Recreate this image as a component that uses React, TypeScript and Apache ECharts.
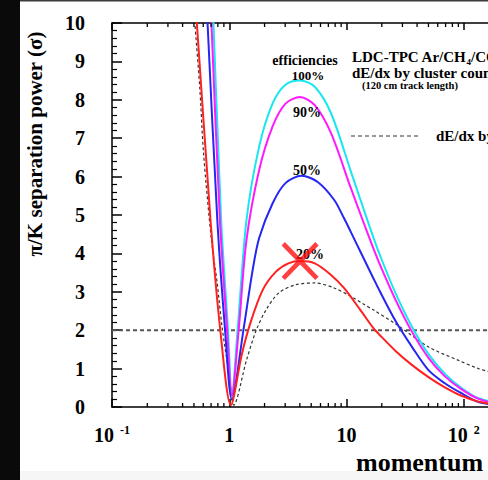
import React, { useEffect, useRef } from "react";
import * as echarts from "echarts";

// momentum (GeV/c), separation power (sigma)
const eff100: number[][] = [
  [0.70, 11.2], [0.733, 10], [0.853, 4.87], [0.975, 2.03], [1.053, 0.3], [1.18, 2.03],
  [1.403, 4.87], [1.799, 6.78], [2.339, 7.9], [3.017, 8.39], [4.02, 8.5], [5.36, 8.34],
  [7.38, 7.65], [10.8, 6.17], [15.9, 4.66], [19.7, 3.88], [27.3, 2.84], [37.5, 2.0],
  [51.3, 1.33], [71.0, 0.83], [98.3, 0.47], [133.6, 0.23], [200, 0.1],
];
const eff90: number[][] = [
  [0.68, 11.2], [0.705, 10], [0.832, 4.87], [0.957, 2.03], [1.053, 0.3], [1.205, 2.03],
  [1.403, 4.35], [1.799, 6.17], [2.339, 7.3], [3.017, 7.9], [4.02, 8.07], [5.36, 7.86],
  [7.38, 7.13], [10.8, 5.73], [15.9, 4.35], [19.2, 3.72], [26.2, 2.79], [36.3, 1.95],
  [50.0, 1.28], [68.4, 0.81], [94.6, 0.47], [133.6, 0.21], [200, 0.08],
];
const eff50: number[][] = [
  [0.62, 11.3], [0.653, 10], [0.791, 4.87], [0.92, 2.03], [1.053, 0.2], [1.325, 2.03],
  [1.574, 3.52], [1.799, 4.4], [2.339, 5.3], [3.017, 5.83], [4.15, 6.02], [5.68, 5.86],
  [7.86, 5.39], [9.51, 4.92], [10.8, 4.58], [13.96, 3.88], [16.9, 3.36], [19.2, 3.02],
  [26.2, 2.24], [36.3, 1.56], [50.0, 0.96], [68.4, 0.625], [94.6, 0.365], [133.6, 0.13],
  [200, 0.05],
];
const eff20: number[][] = [
  [0.48, 11.6], [0.529, 10], [0.692, 4.87], [0.837, 2.03], [1.033, 0.05], [1.275, 1.35],
  [1.515, 2.19], [1.931, 3.05], [2.493, 3.52], [3.197, 3.74], [4.02, 3.8], [5.36, 3.74],
  [7.38, 3.44], [9.51, 3.1], [13.1, 2.53], [16.9, 2.06], [19.2, 1.875], [26.2, 1.46],
  [36.3, 1.09], [50.0, 0.78], [68.4, 0.52], [94.6, 0.3], [133.6, 0.14], [200, 0.05],
];
const truncMean: number[][] = [
  [0.48, 11.2], [0.509, 10], [0.56, 8.33], [0.604, 6.6], [0.705, 4.35], [0.791, 3.2],
  [0.869, 2.08], [1.013, 0.7], [1.094, 0.05], [1.403, 1.22], [1.699, 2.0], [2.06, 2.53],
  [2.64, 2.97], [3.65, 3.18], [5.36, 3.23], [7.86, 3.1], [11.5, 2.84], [13.96, 2.68],
  [16.9, 2.53], [26.3, 2.16], [50.3, 1.56], [89.3, 1.22], [133.7, 1.0], [200, 0.85],
];
const threshold: number[][] = [[0.1, 2], [1000, 2]];
const marker: number[][] = [[4.02, 3.8]];
const minorXTicks: number[] = [
  0.2, 0.3, 0.4, 0.5, 0.6, 0.7, 0.8, 0.9,
  2, 3, 4, 5, 6, 7, 8, 9,
  20, 30, 40, 50, 60, 70, 80, 90,
  200, 300, 400, 500, 600, 700, 800, 900,
];
const yTicks = { min: 0, max: 10, interval: 1 };
const xRange = { min: 0.1, max: 1000 };

const SERIF = "'Liberation Serif', 'Times New Roman', 'DejaVu Serif', serif";
const CHART_W = 600;

export default function App() {
  const ref = useRef<HTMLDivElement>(null);
  useEffect(() => {
    if (!ref.current) return;
    const chart = echarts.init(ref.current, null, { renderer: "svg" });
    const lineBase = (name: string, data: number[][], color: string, z: number) => ({
      name,
      type: "line",
      data,
      showSymbol: false,
      symbol: "none",
      smooth: 0.3,
      z,
      lineStyle: { color, width: 2 },
    });
    const xLabel = (v: number) => {
      if (Math.abs(v - 0.1) < 1e-9) return "{b|10}{s|-1}";
      if (Math.abs(v - 1) < 1e-9) return "{b|1}";
      if (Math.abs(v - 10) < 1e-9) return "{b|10}";
      if (Math.abs(v - 100) < 1e-9) return "{b|10}{s|2}";
      if (Math.abs(v - 1000) < 1e-9) return "{b|10}{s|3}";
      return "";
    };
    const axisCommon = {
      type: "log",
      logBase: 10,
      min: xRange.min,
      max: xRange.max,
      splitLine: { show: false },
      axisLine: { show: true, onZero: false, lineStyle: { color: "#000", width: 1.5 } },
      axisTick: { show: true, inside: true, length: 8, lineStyle: { color: "#000", width: 1.5 } },
    };
    chart.setOption({
      animation: false,
      backgroundColor: "#ffffff",
      grid: { left: 112, top: 23, bottom: 73, right: CHART_W - 112 - 481, containLabel: false },
      xAxis: [
        {
          ...axisCommon,
          position: "bottom",
          axisLabel: {
            show: true,
            margin: 17,
            formatter: xLabel,
            rich: {
              b: { fontFamily: SERIF, fontWeight: "bold", fontSize: 20, color: "#000", lineHeight: 22 },
              s: {
                fontFamily: SERIF, fontWeight: "bold", fontSize: 12, color: "#000",
                verticalAlign: "top", padding: [0, 0, 0, 6], lineHeight: 22,
              },
            },
          },
        },
        {
          ...axisCommon,
          position: "top",
          axisLabel: { show: false },
          axisTick: { show: true, inside: true, length: 7, lineStyle: { color: "#000", width: 1.5 } },
        },
      ],
      yAxis: {
        type: "value",
        min: yTicks.min,
        max: yTicks.max,
        interval: yTicks.interval,
        splitLine: { show: false },
        axisLine: { show: true, lineStyle: { color: "#000", width: 1.5 } },
        axisTick: { show: true, inside: true, length: 10, lineStyle: { color: "#000", width: 1.5 } },
        minorTick: { show: true, splitNumber: 5, length: 5, lineStyle: { color: "#000", width: 1.2 } },
        axisLabel: {
          margin: 27,
          fontFamily: SERIF,
          fontWeight: "bold",
          fontSize: 20,
          color: "#000",
        },
      },
      series: [
        {
          name: "threshold",
          type: "line",
          data: threshold,
          symbol: "none",
          z: 1,
          lineStyle: { color: "#555", width: 2, type: [4, 3] },
        },
        {
          name: "truncated mean",
          type: "line",
          data: truncMean,
          symbol: "none",
          smooth: 0.3,
          z: 2,
          lineStyle: { color: "#333", width: 1.2, type: [3, 2.5] },
        },
        lineBase("100%", eff100, "#19e6f0", 3),
        lineBase("90%", eff90, "#ff19ff", 4),
        lineBase("50%", eff50, "#2626f2", 5),
        lineBase("20%", eff20, "#ff2020", 6),
        {
          name: "minor ticks",
          type: "custom",
          data: minorXTicks.map((v) => [v, 0]),
          z: 10,
          silent: true,
          renderItem: (_params: any, api: any) => {
            const v = api.value(0);
            const b = api.coord([v, yTicks.min]);
            const t = api.coord([v, yTicks.max]);
            const st = { stroke: "#000", lineWidth: 1.3 };
            return {
              type: "group",
              children: [
                { type: "line", shape: { x1: b[0], y1: b[1], x2: b[0], y2: b[1] - 4 }, style: st },
                { type: "line", shape: { x1: t[0], y1: t[1], x2: t[0], y2: t[1] + 4 }, style: st },
              ],
            };
          },
        },
        {
          name: "marker",
          type: "scatter",
          data: marker,
          z: 20,
          symbol:
            "path://M0,9L9,0L50,41L91,0L100,9L59,50L100,91L91,100L50,59L9,100L0,91L41,50Z",
          symbolSize: [37, 38],
          itemStyle: { color: "#ff1010" },
        },
      ],
      graphic: [
        { type: "rect", z: 50, shape: { x: 0, y: 0, width: 20, height: 480 }, style: { fill: "#0a0a0a" } },
        { type: "rect", z: 50, shape: { x: 20, y: 0, width: CHART_W, height: 1.5 }, style: { fill: "#3a3a3a" } },
        { type: "rect", z: 50, shape: { x: 20, y: 471, width: CHART_W, height: 9 }, style: { fill: "#f6f6f6" } },
        {
          type: "text", z: 60, x: 35, y: 144, rotation: Math.PI / 2,
          style: {
            text: "π/K separation power (σ)", fontFamily: SERIF, fontWeight: "bold", fontSize: 21,
            fill: "#000", textAlign: "center", textVerticalAlign: "middle",
          },
        },
        {
          type: "text", z: 60, x: 356, y: 462,
          style: {
            text: "momentum (GeV/c)", fontFamily: SERIF, fontWeight: "bold", fontSize: 26,
            fill: "#000", textAlign: "left", textVerticalAlign: "middle",
          },
        },
        {
          type: "text", z: 60, x: 305, y: 60,
          style: {
            text: "efficiencies", fontFamily: SERIF, fontWeight: "bold", fontSize: 14,
            fill: "#000", textAlign: "center", textVerticalAlign: "middle",
          },
        },
        {
          type: "text", z: 60, x: 308, y: 75,
          style: {
            text: "100%", fontFamily: SERIF, fontWeight: "bold", fontSize: 13,
            fill: "#000", textAlign: "center", textVerticalAlign: "middle",
          },
        },
        {
          type: "text", z: 60, x: 307, y: 112,
          style: {
            text: "90%", fontFamily: SERIF, fontWeight: "bold", fontSize: 14,
            fill: "#000", textAlign: "center", textVerticalAlign: "middle",
          },
        },
        {
          type: "text", z: 60, x: 307, y: 170,
          style: {
            text: "50%", fontFamily: SERIF, fontWeight: "bold", fontSize: 14,
            fill: "#000", textAlign: "center", textVerticalAlign: "middle",
          },
        },
        {
          type: "text", z: 15, x: 310, y: 254,
          style: {
            text: "20%", fontFamily: SERIF, fontWeight: "bold", fontSize: 14,
            fill: "#000", textAlign: "center", textVerticalAlign: "middle",
          },
        },
        {
          type: "text", z: 60, x: 352, y: 57,
          style: {
            text: "{m|LDC-TPC Ar/CH}{sub|4}{m|/CO}{sub|2}",
            rich: {
              m: { fontFamily: SERIF, fontWeight: "bold", fontSize: 15, fill: "#000", color: "#000", lineHeight: 18 },
              sub: {
                fontFamily: SERIF, fontWeight: "bold", fontSize: 9, fill: "#000", color: "#000",
                verticalAlign: "bottom", lineHeight: 18,
              },
            },
            textAlign: "left", textVerticalAlign: "middle",
          },
        },
        {
          type: "text", z: 60, x: 352, y: 73,
          style: {
            text: "dE/dx by cluster counting", fontFamily: SERIF, fontWeight: "bold", fontSize: 15,
            fill: "#000", textAlign: "left", textVerticalAlign: "middle",
          },
        },
        {
          type: "text", z: 60, x: 362, y: 85,
          style: {
            text: "(120 cm track length)", fontFamily: SERIF, fontWeight: "bold", fontSize: 10.5,
            fill: "#000", textAlign: "left", textVerticalAlign: "middle",
          },
        },
        {
          type: "line", z: 60,
          shape: { x1: 351, y1: 136, x2: 419, y2: 136 },
          style: { stroke: "#333", lineWidth: 1, lineDash: [4, 3] },
        },
        {
          type: "text", z: 60, x: 436, y: 136,
          style: {
            text: "dE/dx by truncated mean", fontFamily: SERIF, fontWeight: "bold", fontSize: 15,
            fill: "#000", textAlign: "left", textVerticalAlign: "middle",
          },
        },
      ],
    });
    return () => chart.dispose();
  }, []);
  return (
    <div style={{ position: "fixed", left: 0, top: 0, width: 488, height: 480, overflow: "hidden" }}>
      <div ref={ref} style={{ width: CHART_W, height: 480 }} />
    </div>
  );
}
